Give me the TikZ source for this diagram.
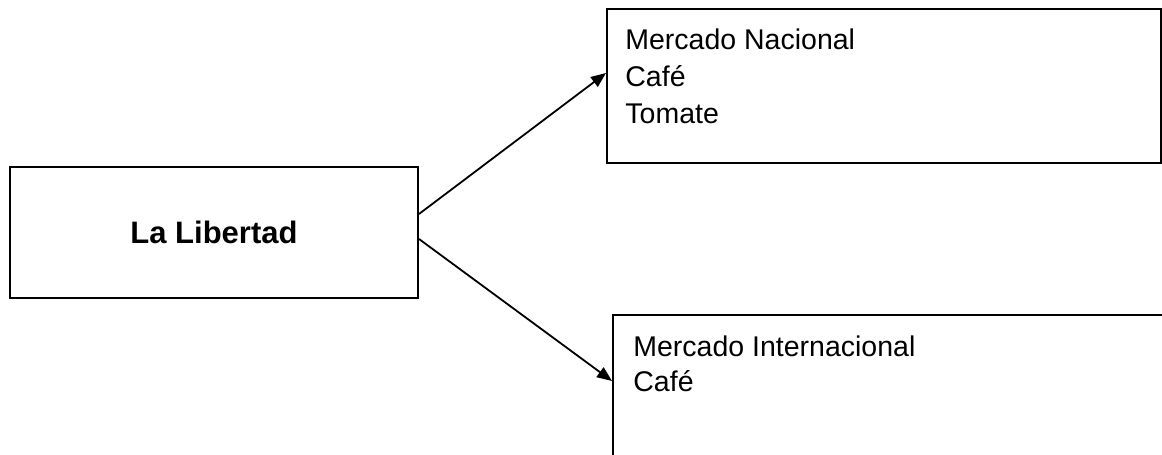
\documentclass[tikz,border=0pt]{standalone}
\usepackage{fontspec}
\setmainfont{Liberation Sans}
\usetikzlibrary{shapes,arrows.meta,positioning}
\tikzstyle{region} = [rectangle, draw, line width=1pt, inner sep=0pt]
\tikzstyle{lista}  = [inner sep=0pt, align=left, anchor=north west, font={\fontsize{14.25}{18.5}\selectfont}]
\tikzstyle{flow} = [draw, line width=0.9pt, -{Triangle[length=7.5pt,width=6pt]}]

\begin{document}
\begin{tikzpicture}[x=0.5pt, y=-0.5pt]
            \clip (0,0) rectangle (1162,455);
            \node[region, minimum width=204pt, minimum height=65.5pt, font={\fontsize{15.5}{18}\selectfont\bfseries}] (libertad) at (214,232.5) {La Libertad};
            \node[region, minimum width=277pt, minimum height=77pt] (nacional) at (884,86) {};
            \node[region, minimum width=300pt, minimum height=100pt] (internacional) at (913,415) {};
            \node[lista] (nacionaltxt) at (625,28) {Mercado Nacional\\Café\\Tomate};
            \node[lista, font={\fontsize{14.25}{17.7}\selectfont}] (internacionaltxt) at (633,335) {Mercado Internacional\\Café};

            \path [flow] ([shift={(0,-18.5)}]libertad.east) -- ([shift={(0,-13)}]nacional.west);
            \path [flow] ([shift={(0,6.5)}]libertad.east) -- ([shift={(0,67)}]internacional.north west);
        \end{tikzpicture}
\end{document}
